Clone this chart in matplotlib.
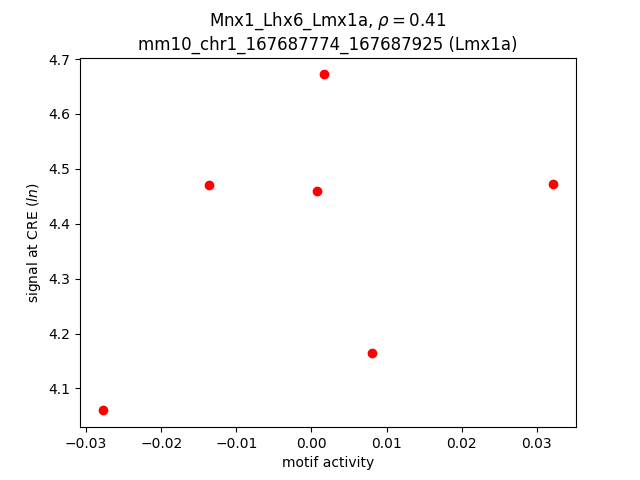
import matplotlib
matplotlib.use('Agg')
import matplotlib.pyplot as plt

# motif activity vs CRE signal
motif_activity = [-0.0278, -0.0137, 0.0007, 0.0017, 0.0080, 0.0322]
cre_signal = [4.060, 4.470, 4.459, 4.672, 4.164, 4.472]

motif_name = 'Mnx1_Lhx6_Lmx1a'
rho = 0.41
cre_name = 'mm10_chr1_167687774_167687925 (Lmx1a)'

fig, ax = plt.subplots(figsize=(6.4, 4.8), dpi=100)
ax.scatter(motif_activity, cre_signal, c='red')
ax.set_xlabel('motif activity')
ax.set_ylabel('signal at CRE ($ln$)')
ax.set_title('%s, $\\rho = %.2f$\n%s' % (motif_name, rho, cre_name))
fig.savefig('out.png')
